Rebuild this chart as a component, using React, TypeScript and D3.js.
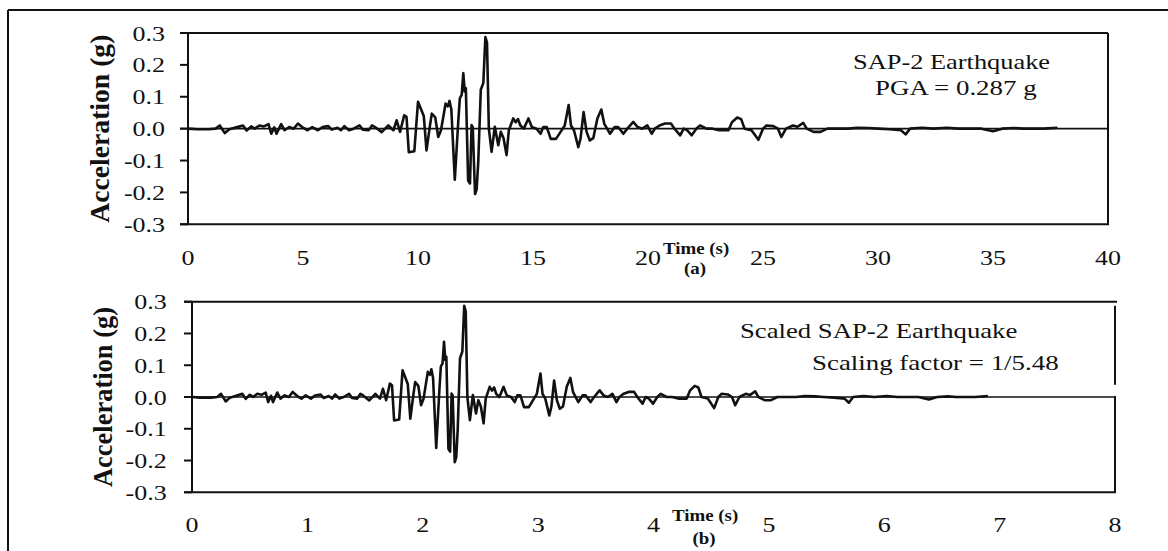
import React, { useEffect, useRef } from 'react';
import * as d3 from 'd3';

// digitised record (s, g)
const timeSec = [
  0, 0.4, 0.9, 1.2, 1.38, 1.6, 1.8, 2.1, 2.39, 2.55, 2.75, 2.9, 3.1, 3.3, 3.5, 3.62, 3.75, 3.85, 4.05, 4.2,
  4.4, 4.6, 4.78, 5.0, 5.2, 5.4, 5.65, 5.85, 6.1, 6.25, 6.5, 6.65, 6.8, 7.0, 7.2, 7.46, 7.6, 7.85, 8.0, 8.13,
  8.42, 8.71, 8.93, 9.07, 9.22, 9.4, 9.5, 9.6, 9.84, 10.0, 10.15, 10.25, 10.37, 10.52, 10.6, 10.75, 10.88, 11.0, 11.2, 11.3,
  11.37, 11.45, 11.6, 11.75, 11.82, 11.9, 11.97, 12.03, 12.08, 12.18, 12.26, 12.33, 12.38, 12.48, 12.55, 12.62, 12.73, 12.84, 12.93, 13.0,
  13.08, 13.2, 13.34, 13.49, 13.6, 13.72, 13.85, 13.95, 14.14, 14.25, 14.35, 14.45, 14.6, 14.8, 14.95, 15.15, 15.33, 15.45, 15.6, 15.77,
  16.0, 16.2, 16.38, 16.55, 16.65, 16.78, 16.97, 17.07, 17.2, 17.33, 17.47, 17.62, 17.8, 17.97, 18.1, 18.35, 18.55, 18.7, 18.93, 19.1,
  19.36, 19.55, 19.75, 19.97, 20.16, 20.3, 20.5, 20.74, 21.0, 21.15, 21.4, 21.55, 21.7, 21.9, 22.1, 22.26, 22.55, 22.8, 23.1, 23.5,
  23.65, 23.88, 24.05, 24.2, 24.5, 24.8, 25.0, 25.15, 25.45, 25.65, 25.8, 26.0, 26.3, 26.5, 26.75, 26.9, 27.2, 27.5, 27.8, 28.3,
  28.7, 29.1, 29.6, 30.0, 30.5, 31.0, 31.2, 31.4, 31.9, 32.4, 33.0, 33.5, 34.0, 34.5, 35.0, 35.4, 35.9, 36.3, 36.8, 37.2, 37.8
];
const accelG = [
  0, -0.002, -0.002, 0.0, 0.01, -0.014, -0.002, 0.004, 0.01, -0.006, 0.007, 0.0, 0.01, 0.007, 0.014, -0.016, 0.004, -0.016, 0.014, -0.005,
  0.005, 0.0, 0.016, 0.003, -0.005, 0.005, -0.005, 0.005, 0.008, -0.003, 0.003, -0.005, 0.008, -0.005, 0.0, 0.01, -0.003, -0.005, 0.01, 0.005,
  -0.011, 0.01, -0.005, 0.026, -0.01, 0.042, 0.037, -0.074, -0.071, 0.084, 0.058, 0.04, -0.068, 0.01, 0.047, 0.035, -0.026, -0.005, 0.079, 0.07,
  0.087, 0.06, -0.16, 0.022, 0.096, 0.106, 0.174, 0.117, 0.127, -0.163, -0.172, 0.011, 0.005, -0.205, -0.19, -0.104, 0.122, 0.143, 0.287, 0.27,
  0.0, -0.073, 0.006, -0.052, -0.01, -0.03, -0.083, -0.005, 0.032, 0.02, 0.03, 0.01, 0.0, 0.032, 0.005, 0.0, -0.016, 0.005, 0.005, -0.032,
  -0.032, -0.01, 0.01, 0.074, 0.01, -0.005, -0.058, -0.03, 0.052, -0.01, -0.037, -0.03, 0.032, 0.06, 0.015, -0.016, 0.005, 0.005, -0.016, 0.0,
  0.021, 0.005, 0.0, 0.01, -0.016, 0.0, 0.01, 0.016, 0.016, 0.0, -0.021, 0.0, -0.005, -0.021, 0.0, 0.01, 0.0, 0.0, -0.005, -0.005,
  0.02, 0.035, 0.03, 0.0, -0.005, -0.035, 0.0, 0.01, 0.008, 0.0, -0.026, 0.0, 0.01, 0.006, 0.018, 0.0, -0.01, -0.01, 0.0, 0.0,
  0.0, 0.003, 0.002, 0.0, -0.002, -0.005, -0.018, 0.0, 0.003, 0.0, 0.003, 0.0, 0.0, 0.0, -0.008, 0.0, 0.002, 0.0, 0.0, 0.0, 0.003
];

const yTicks = [-0.3, -0.2, -0.1, 0.0, 0.1, 0.2, 0.3];
const topXTicks = [0, 5, 10, 15, 20, 25, 30, 35, 40];
const bottomXTicks = [0, 1, 2, 3, 4, 5, 6, 7, 8];
const scalingFactor = 5.48;

const topNotes = ['SAP-2 Earthquake', 'PGA = 0.287 g'];
const bottomNotes = ['Scaled SAP-2 Earthquake', 'Scaling factor = 1/5.48'];

const FONT = 'Liberation Serif';
const SX = 1.18; // the picture is stretched sideways
const INK = '#111';

function App() {
  const ref = useRef(null);

  useEffect(() => {
    const svg = d3.select(ref.current);
    svg.selectAll('*').remove();

    function addText(parent, x, y, str, o) {
      const g = parent.append('g')
        .attr('transform', `translate(${x},${y}) scale(${SX},1)${o.rotate ? ' rotate(-90)' : ''}`);
      const t = g.append('text')
        .attr('text-anchor', o.anchor || 'start')
        .style('font-family', FONT)
        .style('font-size', (o.size || 22) + 'px')
        .style('font-weight', o.weight || 'normal')
        .attr('fill', INK)
        .text(str);
      if (o.length) t.attr('textLength', o.length).attr('lengthAdjust', 'spacingAndGlyphs');
    }

    // outer frame
    svg.append('line').attr('x1', 8).attr('x2', 1168).attr('y1', 10).attr('y2', 10)
      .attr('stroke', INK).attr('stroke-width', 2);
    svg.append('line').attr('x1', 8).attr('x2', 8).attr('y1', 10).attr('y2', 551)
      .attr('stroke', INK).attr('stroke-width', 2);

    function drawPanel(cfg) {
      const x = d3.scaleLinear().domain([0, cfg.xMax]).range([cfg.left, cfg.right]);
      const y = d3.scaleLinear().domain([-0.3, 0.3]).range([cfg.bottom, cfg.top]);
      const g = svg.append('g');
      const seg = (x1, y1, x2, y2, w) => g.append('line')
        .attr('x1', x1).attr('y1', y1).attr('x2', x2).attr('y2', y2)
        .attr('stroke', INK).attr('stroke-width', w);

      // box
      seg(cfg.left - 8, y(0.3), cfg.topLineEnd || cfg.right, y(0.3), 2);
      seg(cfg.left - 8, y(-0.3), cfg.right + 1, y(-0.3), 2);
      seg(cfg.left, y(0.3), cfg.left, y(-0.3), 2);
      if (cfg.rightGap) {
        seg(cfg.right, y(0.3) + 4, cfg.right, y(0.3) + 83, 2);
        seg(cfg.right, y(0) - 1, cfg.right, y(-0.3), 2);
      } else {
        seg(cfg.right, y(0.3), cfg.right, y(-0.3), 2);
      }
      // zero line
      seg(cfg.left - 8, y(0), cfg.right, y(0), 1.6);

      // y ticks
      yTicks.forEach(v => {
        seg(cfg.left - 8, y(v), cfg.left, y(v), 2);
        addText(g, cfg.yLabelX, y(v) + 7.5, v.toFixed(1), { anchor: 'end' });
      });
      // x tick labels
      cfg.xTicks.forEach(v => {
        addText(g, x(v), cfg.xLabelY, String(v), { anchor: 'middle' });
      });

      // record
      const line = d3.line()
        .x((d, i) => x(timeSec[i] / cfg.timeDiv))
        .y(d => y(d));
      g.append('path')
        .datum(accelG)
        .attr('d', line)
        .attr('fill', 'none')
        .attr('stroke', INK)
        .attr('stroke-width', 2.6)
        .attr('stroke-linejoin', 'round');

      // axis titles
      addText(g, cfg.accTitleX, (y(0.3) + y(-0.3)) / 2, 'Acceleration (g)',
        { rotate: true, anchor: 'middle', weight: 'bold', size: 23, length: cfg.accTitleLen });
      addText(g, cfg.timeX, cfg.timeY, 'Time (s)', { weight: 'bold', size: 16 });
      addText(g, cfg.letterX, cfg.letterY, cfg.letter, { anchor: 'middle', weight: 'bold', size: 16 });

      // notes
      cfg.notes.forEach((n, i) => {
        addText(g, cfg.noteX[i], cfg.noteY[i], n, { length: cfg.noteLen[i] });
      });
    }

    drawPanel({
      left: 188, right: 1108, top: 33, bottom: 224.3, xMax: 40, xTicks: topXTicks, timeDiv: 1,
      yLabelX: 165, xLabelY: 264.5, accTitleX: 109, accTitleLen: 188,
      timeX: 663, timeY: 254, letter: '(a)', letterX: 695, letterY: 274,
      notes: topNotes, noteX: [853, 875], noteY: [68.5, 94.5], noteLen: [167, 137]
    });
    drawPanel({
      left: 192, right: 1115, top: 301.7, bottom: 492.3, xMax: 8, xTicks: bottomXTicks, timeDiv: scalingFactor,
      topLineEnd: 1117, rightGap: true,
      yLabelX: 166.7, xLabelY: 531.5, accTitleX: 112, accTitleLen: 180,
      timeX: 672, timeY: 520.5, letter: '(b)', letterX: 704, letterY: 543.5,
      notes: bottomNotes, noteX: [740, 812], noteY: [338, 370], noteLen: [235, 209]
    });
  }, []);

  return (
    <div style={{ position: 'absolute', left: 0, top: 0 }}>
      <svg ref={ref} width={1168} height={551} style={{ display: 'block', background: '#fff' }} />
    </div>
  );
}

export default App;
